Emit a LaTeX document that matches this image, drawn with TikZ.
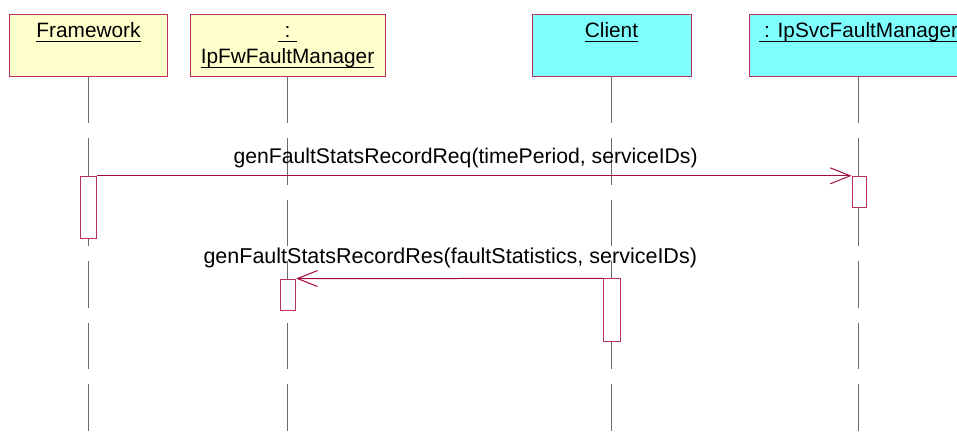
\documentclass[tikz,border=0pt]{standalone}
\usepackage{fontspec}
\setmainfont{Liberation Sans}
\usetikzlibrary{arrows.meta}
\definecolor{msgred}{RGB}{165,10,70}
\definecolor{boxred}{RGB}{185,50,95}
\definecolor{lifegray}{RGB}{105,105,105}
\definecolor{fwyellow}{RGB}{255,255,204}
\definecolor{svccyan}{RGB}{128,255,255}
\begin{document}
\begin{tikzpicture}[x=1pt,y=-1pt,
  font=\fontsize{20.8}{24}\selectfont,
  objbox/.style={draw=boxred,line width=1pt,minimum height=62.3pt,inner sep=0pt},
  actbox/.style={draw=boxred,fill=white,line width=1pt,inner sep=0pt},
  lifeline/.style={draw=lifegray,line width=1.2pt,dash pattern=on 46.5pt off 15pt},
  msg/.style={draw=msgred,line width=1pt,-{Straight Barb[length=20pt,width=16pt,line width=1pt]}},
  lbl/.style={inner sep=0pt,anchor=base},
  uline/.style={draw=black,line width=1.4pt}]
\useasboundingbox (0,0) rectangle (957,441);
\clip (0,0) rectangle (957,441);
% object boxes
\node[objbox,fill=fwyellow,minimum width=158.4pt] (fw) at (88.5,45.2) {};
\node[objbox,fill=fwyellow,minimum width=195pt] (fwm) at (287.5,45.2) {};
\node[objbox,fill=svccyan,minimum width=158.7pt] (cl) at (611.7,45.2) {};
\node[objbox,fill=svccyan,minimum width=219pt] (svc) at (858.7,45.2) {};
% header texts
\node[lbl] (fwT) at (88.5,38) {Framework};
\draw[uline] ([yshift=-3.3pt]fwT.base west) -- ([yshift=-3.3pt]fwT.base east);
\node[lbl] (fwmC) at (287.5,38) {:};
\coordinate (fwmCa) at (278,41.3);
\coordinate (fwmCb) at (297,41.3);
\draw[uline] (fwmCa) -- (fwmCb);
\node[lbl] (fwmT) at (287.5,64) {IpFwFaultManager};
\draw[uline] ([yshift=-3.3pt]fwmT.base west) -- ([yshift=-3.3pt]fwmT.base east);
\node[lbl] (clT) at (611.5,38) {Client};
\draw[uline] ([yshift=-3.3pt]clT.base west) -- ([yshift=-3.3pt]clT.base east);
\node[lbl,anchor=base west] (svcT) at (764,38) {: IpSvcFaultManager};
\coordinate (svcU) at (759.3,41.3);
\draw[uline] (svcU) -- ([yshift=-3.3pt]svcT.base east);
% lifelines
\coordinate (fwB) at (88.5,431);
\coordinate (fwmB) at (287.5,431);
\coordinate (clB) at (611.7,431);
\coordinate (svcB) at (858.7,431);
\draw[lifeline] (fw.south) -- (fwB);
\draw[lifeline] (fwm.south) -- (fwmB);
\draw[lifeline] (cl.south) -- (clB);
\draw[lifeline] (svc.south) -- (svcB);
% activations
\node[actbox,minimum width=16pt,minimum height=62.4pt] (fwA) at (88.7,207.5) {};
\node[actbox,minimum width=14.3pt,minimum height=31pt] (svcA) at (859.2,191.8) {};
\node[actbox,minimum width=15pt,minimum height=31.3pt] (fwmA) at (288.2,294.7) {};
\node[actbox,minimum width=16.7pt,minimum height=62.7pt] (clA) at (611.7,310.3) {};
% messages
\draw[msg] (fwA.north east) -- (svcA.north west);
\node[lbl,anchor=base west,font=\fontsize{21.2}{24}\selectfont] (m1) at (233.3,163) {genFaultStatsRecordReq(timePeriod, serviceIDs)};
\draw[msg] (clA.north west) -- (fwmA.north east);
\node[lbl,anchor=base west,font=\fontsize{21.5}{24}\selectfont] (m2) at (203.3,263) {genFaultStatsRecordRes(faultStatistics, serviceIDs)};
\end{tikzpicture}
\end{document}
